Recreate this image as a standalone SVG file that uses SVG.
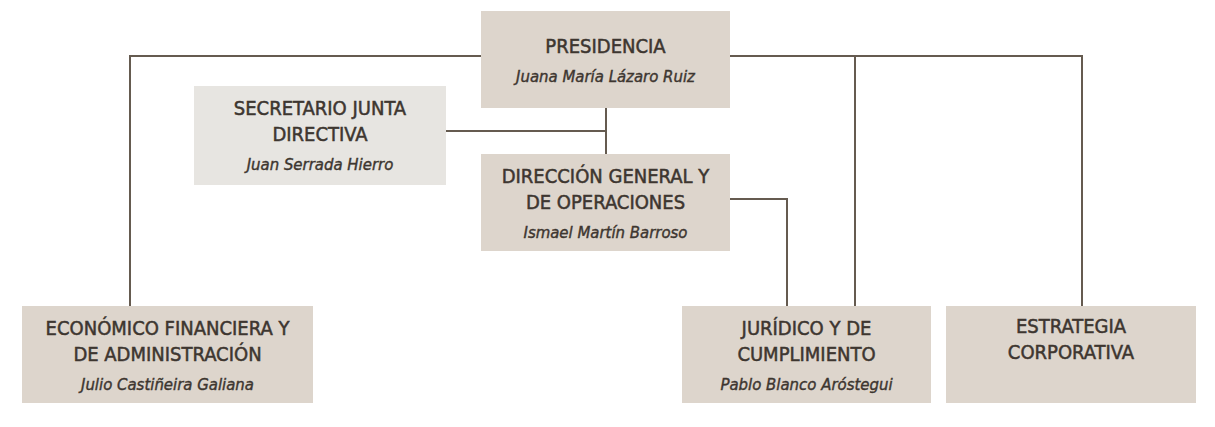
<svg xmlns="http://www.w3.org/2000/svg" width="1215" height="427" viewBox="0 0 1215 427">
<style>
.box{fill:#ddd5cc}
.box2{fill:#e7e5e1}
.t{font-family:"Liberation Sans Narrow","DejaVu Sans Condensed","Liberation Sans",sans-serif;font-size:20px;fill:#3d3630;stroke:#3d3630;stroke-width:0.5px;text-anchor:middle}
.n{font-family:"Liberation Sans Narrow","DejaVu Sans Condensed","Liberation Sans",sans-serif;font-size:16.6px;font-style:italic;fill:#3d3630;stroke:#3d3630;stroke-width:0.4px;text-anchor:middle}
.c{fill:none;stroke:#655b50;stroke-width:2}
</style>
<rect width="1215" height="427" fill="#ffffff"/>
<g id="connectors">
<path class="c" d="M481,56 H130 V306"/>
<path class="c" d="M730,56 H1082 V306"/>
<path class="c" d="M855,56 V306"/>
<path class="c" d="M606,108 V154"/>
<path class="c" d="M446,131 H606"/>
<path class="c" d="M730,199 H787 V306"/>
</g>
<g id="presidencia">
<rect class="box" x="481" y="11" width="249" height="97"/>
<text class="t" x="605.5" y="53">PRESIDENCIA</text>
<text class="n" x="605.5" y="82">Juana María Lázaro Ruiz</text>
</g>
<g id="secretario">
<rect class="box2" x="194" y="86" width="252" height="99"/>
<text class="t" x="320" y="115">SECRETARIO JUNTA</text>
<text class="t" x="320" y="141">DIRECTIVA</text>
<text class="n" x="320" y="170">Juan Serrada Hierro</text>
</g>
<g id="direccion">
<rect class="box" x="481" y="154" width="249" height="97"/>
<text class="t" x="605.5" y="183">DIRECCIÓN GENERAL Y</text>
<text class="t" x="605.5" y="209">DE OPERACIONES</text>
<text class="n" x="605.5" y="238">Ismael Martín Barroso</text>
</g>
<g id="economico">
<rect class="box" x="22" y="306" width="291" height="97"/>
<text class="t" x="167.5" y="335">ECONÓMICO FINANCIERA Y</text>
<text class="t" x="167.5" y="361">DE ADMINISTRACIÓN</text>
<text class="n" x="167.5" y="390">Julio Castiñeira Galiana</text>
</g>
<g id="juridico">
<rect class="box" x="682" y="306" width="249" height="97"/>
<text class="t" x="806.5" y="335">JURÍDICO Y DE</text>
<text class="t" x="806.5" y="361">CUMPLIMIENTO</text>
<text class="n" x="806.5" y="390">Pablo Blanco Aróstegui</text>
</g>
<g id="estrategia">
<rect class="box" x="946" y="306" width="250" height="97"/>
<text class="t" x="1071" y="333">ESTRATEGIA</text>
<text class="t" x="1071" y="359">CORPORATIVA</text>
</g>
</svg>
